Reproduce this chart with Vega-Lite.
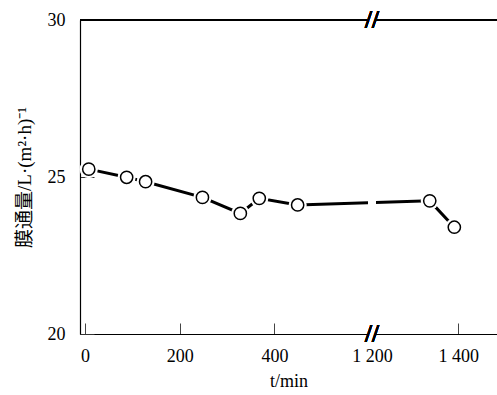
{
  "$schema": "https://vega.github.io/schema/vega-lite/v6.json",
  "width": 417,
  "height": 314,
  "autosize": {"type": "none"},
  "padding": {"left": 80, "top": 20, "right": 0, "bottom": 61},
  "background": "white",
  "config": {"view": {"stroke": null}, "font": "Liberation Serif"},
  "data": {
    "values": [
      {"t": 8, "flux": 25.25},
      {"t": 88, "flux": 24.99},
      {"t": 128, "flux": 24.85},
      {"t": 248, "flux": 24.35},
      {"t": 328, "flux": 23.84},
      {"t": 368, "flux": 24.32},
      {"t": 449, "flux": 24.11},
      {"t": 1334, "flux": 24.24},
      {"t": 1391, "flux": 23.4}
    ]
  },
  "encoding": {
    "x": {
      "field": "t",
      "type": "quantitative",
      "scale": {"domain": [-10.5, 606, 1200, 1490], "range": [0, 292, 292, 417], "nice": false, "zero": false},
      "axis": {
        "values": [0, 200, 400, 1200, 1400],
        "format": ",d",
        "labelExpr": "replace(datum.label, ',', ' ')",
        "title": "t/min",
        "titleFont": "Liberation Serif",
        "titleFontSize": 18,
        "titleFontWeight": "normal",
        "titleColor": "black",
        "titlePadding": 7,
        "labelFont": "Liberation Serif",
        "labelFontSize": 18,
        "labelColor": "black",
        "labelPadding": 24,
        "labelFlush": false,
        "tickSize": -11,
        "tickColor": {"condition": {"test": "datum.value == 1200", "value": "transparent"}, "value": "#444"},
        "tickWidth": 1,
        "domainColor": "black",
        "domainWidth": 1.2,
        "grid": false
      }
    },
    "y": {
      "field": "flux",
      "type": "quantitative",
      "scale": {"domain": [20, 30], "nice": false, "zero": false},
      "axis": {
        "values": [20, 25, 30],
        "title": "膜通量/L·(m²·h)⁻¹",
        "titleFont": "Liberation Serif, Noto Sans CJK SC",
        "titleFontSize": 19,
        "titleFontWeight": "normal",
        "titleColor": "black",
        "titlePadding": 13,
        "labelFont": "Liberation Serif",
        "labelFontSize": 18,
        "labelColor": "black",
        "labelPadding": 29,
        "tickSize": -14,
        "tickColor": "#333",
        "tickWidth": 1,
        "domainColor": "black",
        "domainWidth": 1.2,
        "grid": false
      }
    }
  },
  "layer": [
    {
      "mark": {"type": "rule", "color": "black", "strokeWidth": 1},
      "encoding": {"x": null, "y": {"datum": 30}}
    },
    {
      "mark": {"type": "line", "color": "black", "strokeWidth": 3}
    },
    {
      "mark": {"type": "square", "color": "white", "filled": true, "opacity": 1, "size": 64},
      "encoding": {"x": {"datum": 606}, "y": {"datum": 24.18}}
    },
    {
      "mark": {"type": "circle", "color": "white", "filled": true, "opacity": 1, "size": 330}
    },
    {
      "mark": {"type": "point", "shape": "circle", "fill": "white", "stroke": "black", "strokeWidth": 1.5, "filled": false, "opacity": 1, "size": 150}
    },
    {
      "mark": {"type": "square", "color": "white", "filled": true, "opacity": 1, "size": 40},
      "encoding": {"x": {"datum": 606}, "y": {"datum": 30}}
    },
    {
      "mark": {"type": "square", "color": "white", "filled": true, "opacity": 1, "size": 40},
      "encoding": {"x": {"datum": 606}, "y": {"datum": 20}}
    },
    {
      "mark": {"type": "text", "text": "//", "font": "Liberation Serif", "fontSize": 25, "fontWeight": "bold", "color": "black", "baseline": "middle", "align": "center", "dy": 0},
      "encoding": {"x": {"datum": 606}, "y": {"datum": 30}}
    },
    {
      "mark": {"type": "text", "text": "//", "font": "Liberation Serif", "fontSize": 25, "fontWeight": "bold", "color": "black", "baseline": "middle", "align": "center", "dy": 0},
      "encoding": {"x": {"datum": 606}, "y": {"datum": 20}}
    }
  ]
}
